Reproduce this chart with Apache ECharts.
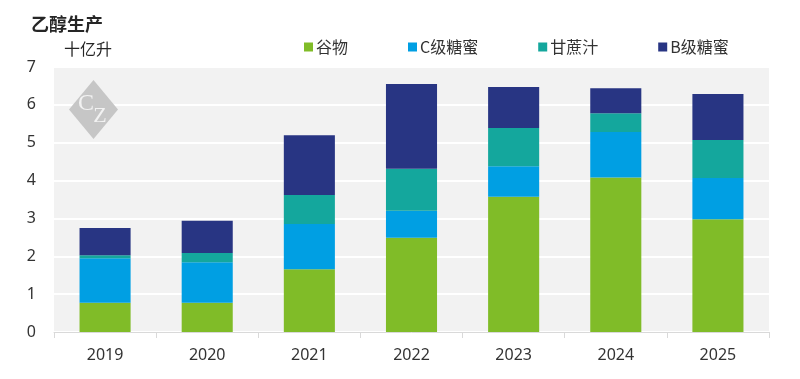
<!DOCTYPE html>
<html><head><meta charset="utf-8">
<script src="https://cdn.jsdelivr.net/npm/echarts@6/dist/echarts.min.js"></script>
<style>html,body{margin:0;padding:0;background:#fff}#c{width:800px;height:379px}</style>
</head><body><div id="c"></div>
<script>
var categories = ['2019','2020','2021','2022','2023','2024','2025'];
var grain   = [0.77, 0.77, 1.66, 2.49, 3.57, 4.08, 2.98];
var cMol    = [1.18, 1.07, 1.19, 0.71, 0.81, 1.20, 1.09];
var cane    = [0.08, 0.25, 0.77, 1.11, 1.01, 0.50, 1.00];
var bMol    = [0.72, 0.85, 1.58, 2.24, 1.08, 0.66, 1.22];
var seriesNames = ['谷物','C级糖蜜','甘蔗汁','B级糖蜜'];
var colors = ['#80bc28','#009fe3','#14a79d','#283583'];
var yTicks = [0,1,2,3,4,5,6,7];

var chart = echarts.init(document.getElementById('c'));
var dataSets = [grain, cMol, cane, bMol];
var cjk = '"Noto Sans CJK SC","Noto Sans",sans-serif';
chart.setOption({
  animation: false,
  color: colors,
  title: [
    {text: '乙醇生产', left: 26, top: 10, textStyle: {fontFamily: cjk, fontSize: 18, fontWeight: 'bold', color: '#262626'}},
    {text: '十亿升', left: 59, top: 36, textStyle: {fontFamily: cjk, fontSize: 16, fontWeight: 'normal', color: '#262626'}}
  ],
  legend: {
    left: 299, top: 34, itemWidth: 9, itemHeight: 9, itemGap: 60, icon: 'rect',
    textStyle: {fontFamily: cjk, fontSize: 16, color: '#333', padding: [0,0,0,-2]},
    data: seriesNames
  },
  grid: {left: 54, right: 31, top: 67, bottom: 47, show: true, backgroundColor: '#f2f2f2', borderWidth: 0},
  graphic: [
    {type: 'polygon', shape: {points: [[93.5,80],[118,109.5],[93.5,139],[69,109.5]]}, style: {fill: '#c6c6c6'}, z: 1},
    {type: 'text', x: 86, y: 104, style: {text: 'C', fill: '#f2f2f2', font: '24px "Liberation Serif",serif', textAlign: 'center', textVerticalAlign: 'middle'}, z: 2},
    {type: 'text', x: 100, y: 116, style: {text: 'Z', fill: '#f2f2f2', font: '22px "Liberation Serif",serif', textAlign: 'center', textVerticalAlign: 'middle'}, z: 2}
  ],
  xAxis: {
    type: 'category', data: categories,
    axisLine: {lineStyle: {color: '#d9d9d9', width: 1}},
    axisTick: {show: true, length: 6, lineStyle: {color: '#d9d9d9'}},
    axisLabel: {fontFamily: '"Noto Sans",sans-serif', fontSize: 16, color: '#333', margin: 15}
  },
  yAxis: {
    type: 'value', min: 0, max: 7, interval: 1,
    axisLine: {show: false}, axisTick: {show: false},
    splitLine: {lineStyle: {color: '#ffffff', width: 2}},
    axisLabel: {fontFamily: '"Noto Sans",sans-serif', fontSize: 16, color: '#333', margin: 18,
      formatter: function(v){ return yTicks.indexOf(v) >= 0 ? String(v) : ''; }}
  },
  series: dataSets.map(function(d, i){
    return {name: seriesNames[i], type: 'bar', stack: 'total', data: d, barWidth: '50%', z: 3};
  })
});
</script></body></html>
